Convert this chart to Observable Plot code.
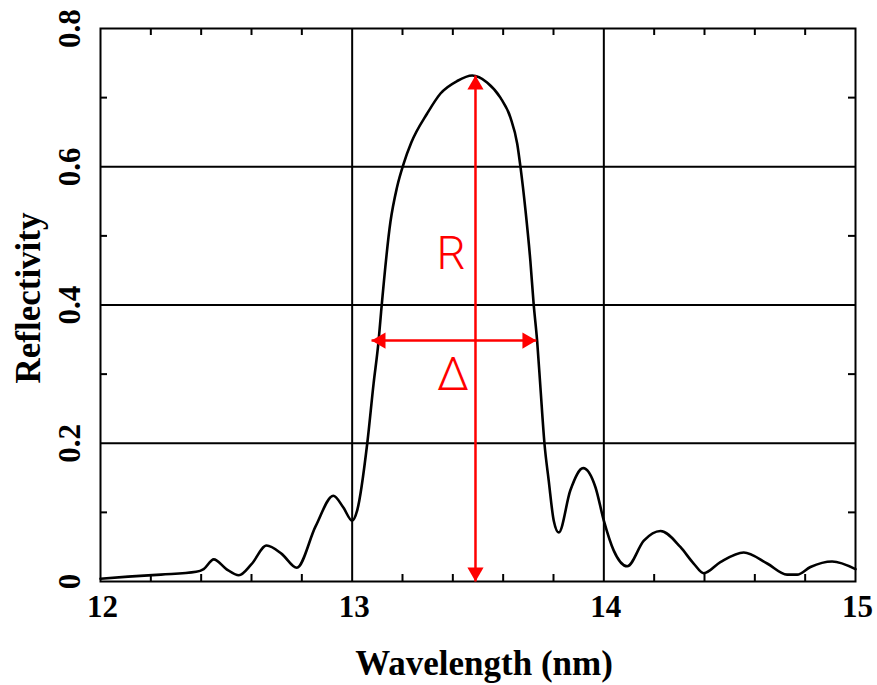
<!DOCTYPE html>
<html><head><meta charset="utf-8">
<script src="https://cdn.jsdelivr.net/npm/d3@7"></script>
<script src="https://cdn.jsdelivr.net/npm/@observablehq/plot@0.6"></script>
<style>body{margin:0;background:#fff} #chart svg{display:block}</style>
</head><body><div id="chart"></div>
<script>
// Reflectivity curve
const wavelength = [12.00, 12.11, 12.24, 12.38, 12.41, 12.45, 12.50, 12.55, 12.60, 12.66, 12.72, 12.78, 12.855, 12.925, 12.965, 13.00,
  13.02, 13.06, 13.085, 13.105, 13.115, 13.152, 13.178, 13.205, 13.235, 13.298, 13.351, 13.417, 13.477, 13.536, 13.589, 13.629, 13.656, 13.669,
  13.689, 13.708, 13.721, 13.735, 13.748, 13.764, 13.781, 13.801, 13.821, 13.867, 13.918, 13.967, 14.00, 14.039, 14.093, 14.159, 14.225,
  14.304, 14.357, 14.397, 14.463, 14.556, 14.649, 14.728, 14.768, 14.821, 14.907, 15.00];
const reflectivity = [0.004, 0.007, 0.010, 0.014, 0.018, 0.032, 0.018, 0.009, 0.025, 0.052, 0.040, 0.020, 0.080, 0.124, 0.107, 0.088,
  0.103, 0.200, 0.286, 0.348, 0.390, 0.520, 0.570, 0.605, 0.635, 0.677, 0.706, 0.724, 0.732, 0.722, 0.700, 0.671, 0.633, 0.599,
  0.536, 0.464, 0.402, 0.348, 0.281, 0.200, 0.146, 0.088, 0.071, 0.132, 0.164, 0.136, 0.088, 0.045, 0.022, 0.059, 0.073,
  0.050, 0.026, 0.012, 0.028, 0.042, 0.026, 0.010, 0.010, 0.021, 0.029, 0.018];

const xTicks = [12, 13, 14, 15];
const yTicks = [0, 0.2, 0.4, 0.6, 0.8];
const yTickLabels = ["0", "0.2", "0.4", "0.6", "0.8"];
const xMinor = [12.2, 12.4, 12.6, 12.8, 13.2, 13.4, 13.6, 13.8, 14.2, 14.4, 14.6, 14.8];
const yMinor = [0.1, 0.3, 0.5, 0.7];
const xGrid = [13, 14];
const yGrid = [0.2, 0.4, 0.6];

// Annotations
const peakX = 13.49, peakR = 0.732;
const bandY = 0.3485, bandX1 = 13.077, bandX2 = 13.732;
const labelR = {x: 13.393, y: 0.473, text: "R"};
const labelD = {x: 13.401, y: 0.298, text: "Δ"};
const xLabel = "Wavelength (nm)";
const yLabel = "Reflectivity";

const data = wavelength.map((w, i) => ({w, r: reflectivity[i]}));
const red = "#ff0000";
const W = 877, H = 685, mL = 100, mR = 22, mT = 28, mB = 104;
const innerH = H - mT - mB, innerW = W - mL - mR, tickLen = 7;
const serif = "'Liberation Serif', 'DejaVu Serif', serif";
const headOff = 9.3;

const chart = Plot.plot({
  width: W, height: H,
  marginLeft: mL, marginRight: mR, marginTop: mT, marginBottom: mB,
  style: {background: "#fff", overflow: "visible"},
  x: {domain: [12, 15], axis: null},
  y: {domain: [0, 0.8], axis: null},
  marks: [
    Plot.ruleX(xGrid, {x: d => d, stroke: "#000", strokeWidth: 2}),
    Plot.ruleY(yGrid, {y: d => d, stroke: "#000", strokeWidth: 2}),
    Plot.ruleX(xMinor, {x: d => d, insetTop: innerH - tickLen, stroke: "#000", strokeWidth: 2}),
    Plot.ruleX(xMinor, {x: d => d, insetBottom: innerH - tickLen, stroke: "#000", strokeWidth: 2}),
    Plot.ruleY(yMinor, {y: d => d, insetRight: innerW - tickLen, stroke: "#000", strokeWidth: 2}),
    Plot.ruleY(yMinor, {y: d => d, insetLeft: innerW - tickLen, stroke: "#000", strokeWidth: 2}),
    Plot.frame({stroke: "#000", strokeWidth: 2}),
    Plot.line(data, {x: "w", y: "r", stroke: "#000", strokeWidth: 2.6, curve: "monotone-x"}),
    // tick labels
    Plot.text(xTicks, {x: d => d, y: 0, dy: 26, dx: 2, text: d => String(d), fontFamily: serif, fontWeight: "bold", fontSize: 31, fill: "#000"}),
    Plot.text(yTicks, {x: 12, y: d => d, dx: -30, text: (d, i) => yTickLabels[i], rotate: -90, fontFamily: serif, fontWeight: "bold", fontSize: 31, fill: "#000"}),
    Plot.text([xLabel], {frameAnchor: "bottom", dy: 82, dx: 6, textAnchor: "middle", lineAnchor: "middle", text: d => d, fontFamily: serif, fontWeight: "bold", fontSize: 35, fill: "#000"}),
    Plot.text([yLabel], {frameAnchor: "left", dx: -72, dy: -7, rotate: -90, textAnchor: "middle", lineAnchor: "middle", text: d => d, fontFamily: serif, fontWeight: "bold", fontSize: 35, fill: "#000"}),
    // red annotations
    Plot.link([{x: peakX}], {x1: "x", x2: "x", y1: () => 0, y2: () => peakR, stroke: red, strokeWidth: 2.5}),
    Plot.link([{y: bandY}], {x1: () => bandX1, x2: () => bandX2, y1: "y", y2: "y", stroke: red, strokeWidth: 2.5}),
    Plot.dot([{x: peakX, y: peakR}], {x: "x", y: "y", symbol: "triangle", r: 6, fill: red, stroke: "none", rotate: 0, dy: headOff}),
    Plot.dot([{x: peakX, y: 0}], {x: "x", y: "y", symbol: "triangle", r: 6, fill: red, stroke: "none", rotate: 180, dy: -headOff}),
    Plot.dot([{x: bandX1, y: bandY}], {x: "x", y: "y", symbol: "triangle", r: 6, fill: red, stroke: "none", rotate: -90, dx: headOff}),
    Plot.dot([{x: bandX2, y: bandY}], {x: "x", y: "y", symbol: "triangle", r: 6, fill: red, stroke: "none", rotate: 90, dx: -headOff}),
    Plot.text([labelR, labelD], {x: "x", y: "y", text: "text", fill: red, fontSize: 46, fontFamily: "Roboto, 'Noto Sans', sans-serif", fontWeight: 300})
  ]
});
document.getElementById("chart").appendChild(chart);
</script>
</body></html>
